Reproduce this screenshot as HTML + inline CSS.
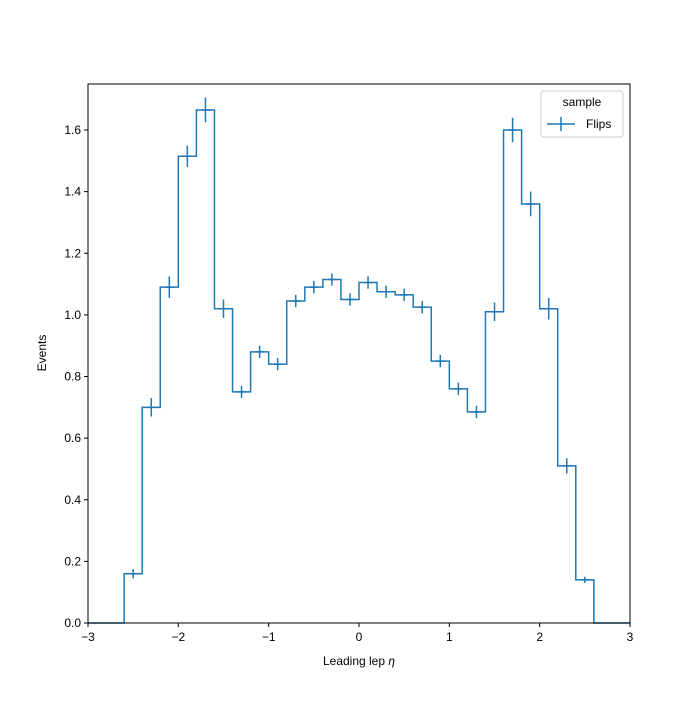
<!DOCTYPE html>
<html><head><meta charset="utf-8"><style>
body{margin:0;background:#fff;font-family:"Liberation Sans",sans-serif}
</style></head><body>
<svg id="chart" width="700" height="700" xmlns="http://www.w3.org/2000/svg" font-family="Liberation Sans, sans-serif"></svg>
<script>
const binEdges=[-3,-2.8,-2.6,-2.4,-2.2,-2,-1.8,-1.6,-1.4,-1.2,-1,-0.8,-0.6,-0.4,-0.2,0,0.2,0.4,0.6,0.8,1,1.2,1.4,1.6,1.8,2,2.2,2.4,2.6,2.8,3];
const counts=[0,0,0.16,0.70,1.09,1.515,1.665,1.02,0.75,0.88,0.84,1.045,1.09,1.115,1.05,1.105,1.075,1.065,1.025,0.85,0.76,0.685,1.01,1.60,1.36,1.02,0.51,0.14,0,0];
const errors=[0,0,0.015,0.03,0.035,0.035,0.04,0.03,0.02,0.02,0.02,0.02,0.02,0.02,0.02,0.02,0.02,0.02,0.02,0.02,0.02,0.02,0.03,0.04,0.04,0.035,0.025,0.01,0,0];
const xTicks=[-3,-2,-1,0,1,2,3];
const xTickLabels=["\u22123","\u22122","\u22121","0","1","2","3"];
const yTicks=[0,0.2,0.4,0.6,0.8,1.0,1.2,1.4,1.6];
const yTickLabels=["0.0","0.2","0.4","0.6","0.8","1.0","1.2","1.4","1.6"];
const L=88,R=630,T=84,B=623,col="#1f77b4";
const sx=v=>L+(v+3)/6*(R-L);
const sy=v=>B-v*(B-130)/1.6;
const svg=document.getElementById('chart');
const NS="http://www.w3.org/2000/svg";
function mk(tag,attrs,parent){const e=document.createElementNS(NS,tag);for(const k in attrs)e.setAttribute(k,attrs[k]);(parent||svg).appendChild(e);return e;}
// step
let d=`M${sx(binEdges[0])},${sy(counts[0])}`;
for(let i=0;i<counts.length;i++){
  if(i>0)d+=` V${sy(counts[i])}`;
  d+=` H${sx(binEdges[i+1])}`;
}
const step=mk('path',{d:d,fill:'none',stroke:col,'stroke-width':1.5});


for(let i=0;i<counts.length;i++){
  if(counts[i]<=0)continue;
  const cx=(binEdges[i]+binEdges[i+1])/2;
  const g=mk('g',{stroke:col,'stroke-width':1.5});
  
  
  mk('line',{x1:sx(cx),x2:sx(cx),y1:sy(counts[i]-errors[i]),y2:sy(counts[i]+errors[i])},g);
  mk('line',{x1:sx(cx)-4,x2:sx(cx)+4,y1:sy(counts[i]),y2:sy(counts[i])},g);
}
const frame=mk('rect',{x:L,y:T,width:R-L,height:B-T,fill:'none',stroke:'#000','stroke-width':1});


xTicks.forEach((v,i)=>{
  mk('line',{x1:sx(v),x2:sx(v),y1:B,y2:B+4,stroke:'#000'});
  const t=mk('text',{x:sx(v),y:B+18,'text-anchor':'middle','font-size':12});
  t.textContent=xTickLabels[i];
  
  
});
yTicks.forEach((v,i)=>{
  mk('line',{x1:L-4,x2:L,y1:sy(v),y2:sy(v),stroke:'#000'});
  const t=mk('text',{x:L-7,y:sy(v)+4,'text-anchor':'end','font-size':12});
  t.textContent=yTickLabels[i];
  
  
});
</script>
<svg style="position:absolute;left:0;top:0" width="700" height="700" xmlns="http://www.w3.org/2000/svg" font-family="Liberation Sans, sans-serif">
<text x="359" y="665" text-anchor="middle" font-size="12">Leading lep <tspan font-style="italic">η</tspan></text>
<text x="0" y="0" transform="translate(46,353) rotate(-90)" text-anchor="middle" font-size="12">Events</text>
<g>
<rect x="541" y="91" width="82" height="46" rx="3" fill="#fff" fill-opacity="0.8" stroke="#ccc"/>
<text x="582" y="106" text-anchor="middle" font-size="12">sample</text>
<line x1="547" x2="575" y1="124" y2="124" stroke="#1f77b4" stroke-width="1.5"/>
<line x1="561" x2="561" y1="117" y2="131" stroke="#1f77b4" stroke-width="1.5"/>
<text x="586" y="128" font-size="12">Flips</text>
</g>
</svg>
</body></html>
